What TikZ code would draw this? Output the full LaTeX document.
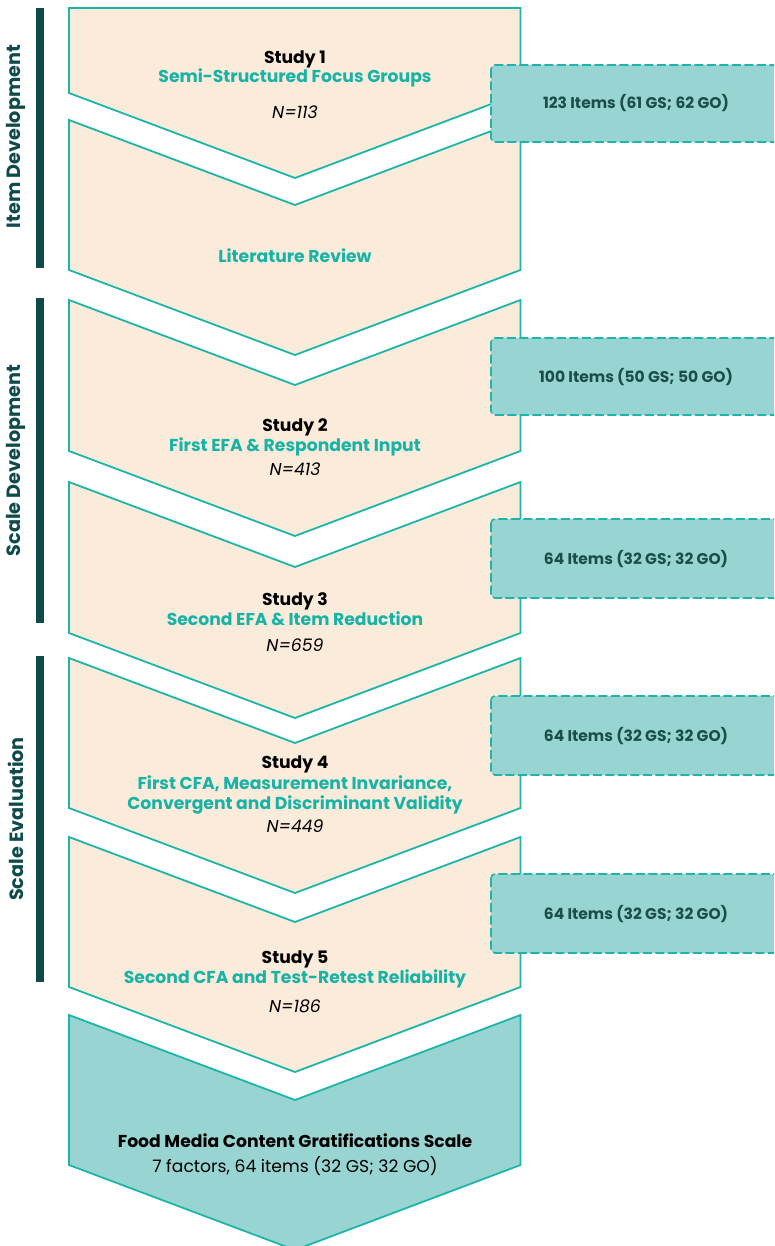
\documentclass[tikz,border=0pt]{standalone}
\usepackage{fontspec}
\setmainfont{Poppins}
\definecolor{peach}{HTML}{FBEBDA}
\definecolor{tealline}{HTML}{1DB5A9}
\definecolor{tealtext}{HTML}{16B3A6}
\definecolor{tealfill}{HTML}{98D5D2}
\definecolor{darkteal}{HTML}{0E4B4A}
\definecolor{boxtext}{HTML}{1B4D4B}
\begin{document}
\begin{tikzpicture}[x=1pt,y=-1pt,
  chevfill/.style={fill=peach,draw=tealline,line width=1.8pt,line join=miter},
  finalfill/.style={fill=tealfill,draw=tealline,line width=1.8pt,line join=miter},
  itembox/.style={fill=tealfill,draw=tealline,line width=1.6pt,dashed,dash pattern=on 9pt off 3.5pt,rounded corners=4pt},
  phasebar/.style={fill=darkteal},
  phaselabel/.style={rotate=90,text=darkteal,font=\fontsize{19.2}{22}\selectfont\bfseries},
  studyhead/.style={anchor=base,text=black,font=\fontsize{17.2}{20}\selectfont\bfseries},
  studysub/.style={anchor=base,text=tealtext,font=\fontsize{17.2}{20}\selectfont\bfseries,align=center},
  samplesize/.style={anchor=base,text=black,font=\fontsize{17.2}{20}\selectfont\itshape},
  boxlabel/.style={anchor=base,text=boxtext,font=\fontsize{15.5}{18}\selectfont\bfseries},
  inner sep=0pt]
\useasboundingbox (0,0) rectangle (774,1246);
\clip (0,0) rectangle (774,1246);
\def\L{69}\def\R{520.5}\def\C{295}\def\D{85}
% first chevron: flat top
\draw[chevfill] (\L,8) -- (\R,8) -- (\R,93) -- (\C,93+\D) -- (\L,93) -- cycle;
% notched chevrons: top corner y / bottom corner y
\foreach \t/\b in {120/270, 300/451, 482/633, 658/808, 837/987}{
  \draw[chevfill] (\L,\t) -- (\C,\t+\D) -- (\R,\t) -- (\R,\b) -- (\C,\b+\D) -- (\L,\b) -- cycle;
}
\draw[finalfill] (\L,1015) -- (\C,1015+\D) -- (\R,1015) -- (\R,1165) -- (\C,1165+\D) -- (\L,1165) -- cycle;

% item count boxes
\foreach \t/\b in {65/142, 338/415, 519/598, 696/775, 874/953}{
  \draw[itembox] (491,\t) rectangle (800,\b);
}
\node[boxlabel] (b1) at (636,109) {123 Items (61 GS; 62 GO)};
\node[boxlabel] (b2) at (636,382) {100 Items (50 GS; 50 GO)};
\node[boxlabel] (b3) at (636,564) {64 Items (32 GS; 32 GO)};
\node[boxlabel] (b4) at (636,741) {64 Items (32 GS; 32 GO)};
\node[boxlabel] (b5) at (636,919) {64 Items (32 GS; 32 GO)};

% phase bars and labels
\fill[phasebar] (36,8) rectangle (44,268);
\fill[phasebar] (36,298) rectangle (44,623);
\fill[phasebar] (36,656) rectangle (44,982);
\node[phaselabel] (p1) at (16,136.5) {Item Development};
\node[phaselabel] (p2) at (16,460.5) {Scale Development};
\node[phaselabel] (p3) at (16,819) {Scale Evaluation};

% study texts (a two-line node sits on the baseline of its last line)
\node[studyhead] (s1h) at (\C,64) {Study 1};
\node[studysub] (s1s) at (\C,83) {Semi-Structured Focus Groups};
\node[samplesize] (s1n) at (\C,119) {N=113};
\node[studysub] (lr) at (\C,263) {Literature Review};

\node[studyhead] (s2h) at (\C,431.5) {Study 2};
\node[studysub] (s2s) at (\C,451.5) {First EFA \& Respondent Input};
\node[samplesize] (s2n) at (\C,475) {N=413};

\node[studyhead] (s3h) at (\C,605.5) {Study 3};
\node[studysub] (s3s) at (\C,625.5) {Second EFA \& Item Reduction};
\node[samplesize] (s3n) at (\C,651) {N=659};

\node[studyhead] (s4h) at (\C,768.5) {Study 4};
\node[studysub] (s4s) at (\C,809.5) {First CFA, Measurement Invariance,\\Convergent and Discriminant Validity};
\node[samplesize] (s4n) at (\C,832) {N=449};

\node[studyhead] (s5h) at (\C,963) {Study 5};
\node[studysub] (s5s) at (\C,983.5) {Second CFA and Test-Retest Reliability};
\node[samplesize] (s5n) at (\C,1012) {N=186};

\node[studyhead] (fh) at (\C,1147) {Food Media Content Gratifications Scale};
\node[anchor=base,text=black,font=\fontsize{17.2}{20}\selectfont] (fs) at (\C,1172) {7 factors, 64 items (32 GS; 32 GO)};
\end{tikzpicture}
\end{document}
